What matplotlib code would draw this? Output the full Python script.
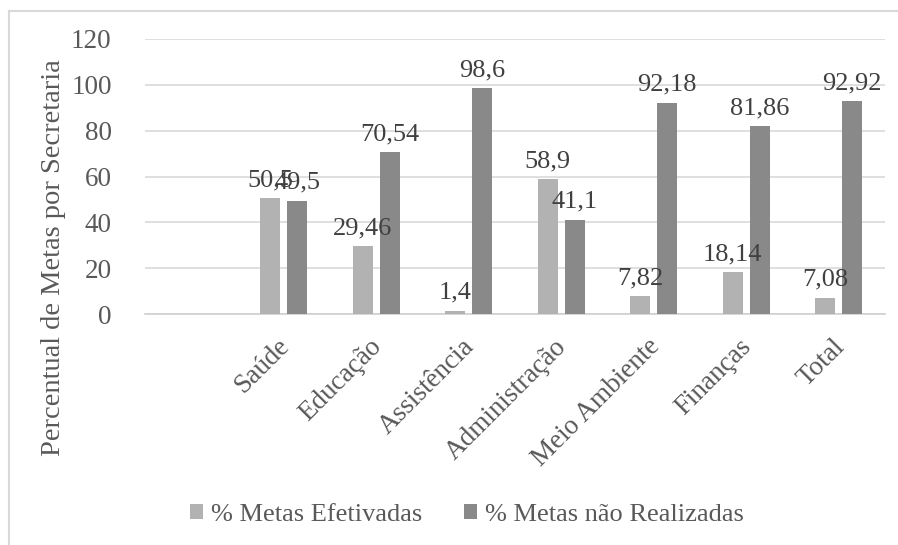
import matplotlib
matplotlib.use("Agg")
import matplotlib.pyplot as plt
from matplotlib.lines import Line2D
from matplotlib.transforms import ScaledTranslation
import numpy as np

categories = ["", "Saúde", "Educação", "Assistência", "Administração",
              "Meio Ambiente", "Finanças", "Total"]
efetivadas = [np.nan, 50.5, 29.46, 1.4, 58.9, 7.82, 18.14, 7.08]
nao_realizadas = [np.nan, 49.5, 70.54, 98.6, 41.1, 92.18, 81.86, 92.92]
label_efetivadas = ["", "50,5", "29,46", "1,4", "58,9", "7,82", "18,14", "7,08"]
label_nao = ["", "49,5", "70,54", "98,6", "41,1", "92,18", "81,86", "92,92"]
yticks = [0, 20, 40, 60, 80, 100, 120]

plt.rcParams["font.family"] = ["Liberation Serif", "DejaVu Serif"]

W, H = 898, 545
fig = plt.figure(figsize=(W / 100, H / 100), dpi=100)
ax = fig.add_axes([145 / W, 1 - 314 / H, (885 - 145) / W, (314 - 39) / H])

light = "#b2b2b2"
dark = "#898989"
txt = "#595959"
lbl = "#404040"

x = np.arange(len(categories))
bw = 0.216
off = 0.146
b1 = ax.bar(x - off, efetivadas, bw, color=light, label="% Metas Efetivadas", zorder=3)
b2 = ax.bar(x + off, nao_realizadas, bw, color=dark, label="% Metas não Realizadas", zorder=3)

for bars, labels in ((b1, label_efetivadas), (b2, label_nao)):
    for rect, s in zip(bars, labels):
        if not s:
            continue
        ax.annotate(s, (rect.get_x() + rect.get_width() / 2, rect.get_height()),
                    xytext=(0, 5), textcoords="offset points",
                    ha="center", va="bottom", fontsize=19, color=lbl, zorder=4)

ax.set_xlim(-0.5, len(categories) - 0.5)
ax.set_ylim(0, 120)
ax.set_yticks(yticks)
ax.set_yticklabels([str(v) for v in yticks], fontsize=19.5, color=txt)
ax.yaxis.grid(True, color="#d9d9d9", linewidth=1.2, zorder=0)
ax.set_axisbelow(True)
ax.set_xticks(x)
ax.set_xticklabels([])
ax.tick_params(axis="both", length=0)
ax.tick_params(axis="y", pad=24)

# rotated category names, top-right corner anchored below each group
name_shift = ScaledTranslation(-7 / 100, -20 / 100, fig.dpi_scale_trans)
for xi, name in zip(x, categories):
    if not name:
        continue
    ax.text(xi, 0, name, transform=ax.get_xaxis_transform() + name_shift,
            rotation=45, rotation_mode="anchor", ha="right", va="top",
            fontsize=19.5, color=txt)

for side in ("top", "right", "left"):
    ax.spines[side].set_visible(False)
ax.spines["bottom"].set_color("#d0d0d0")
ax.spines["bottom"].set_linewidth(1.2)

ax.set_ylabel("Percentual de Metas por Secretaria", fontsize=20.5, color=txt)
ax.yaxis.set_label_coords((66 - 145) / 740, (314 - 258) / 275)

fig.legend(handles=[b1, b2], loc="center", bbox_to_anchor=(467 / W, 1 - 515 / H),
           ncol=2, frameon=False, fontsize=19, labelcolor=txt,
           handlelength=0.5, handleheight=0.5, handletextpad=0.3, columnspacing=1.6)

# chart area border
fig.add_artist(Line2D([9 / W, 9 / W], [0, 1 - 11 / H], transform=fig.transFigure,
                      color="#d9d9d9", linewidth=1.5))
fig.add_artist(Line2D([9 / W, 1], [1 - 11 / H, 1 - 11 / H], transform=fig.transFigure,
                      color="#d9d9d9", linewidth=1.5))

fig.savefig("out.png", dpi=100, facecolor="white")
